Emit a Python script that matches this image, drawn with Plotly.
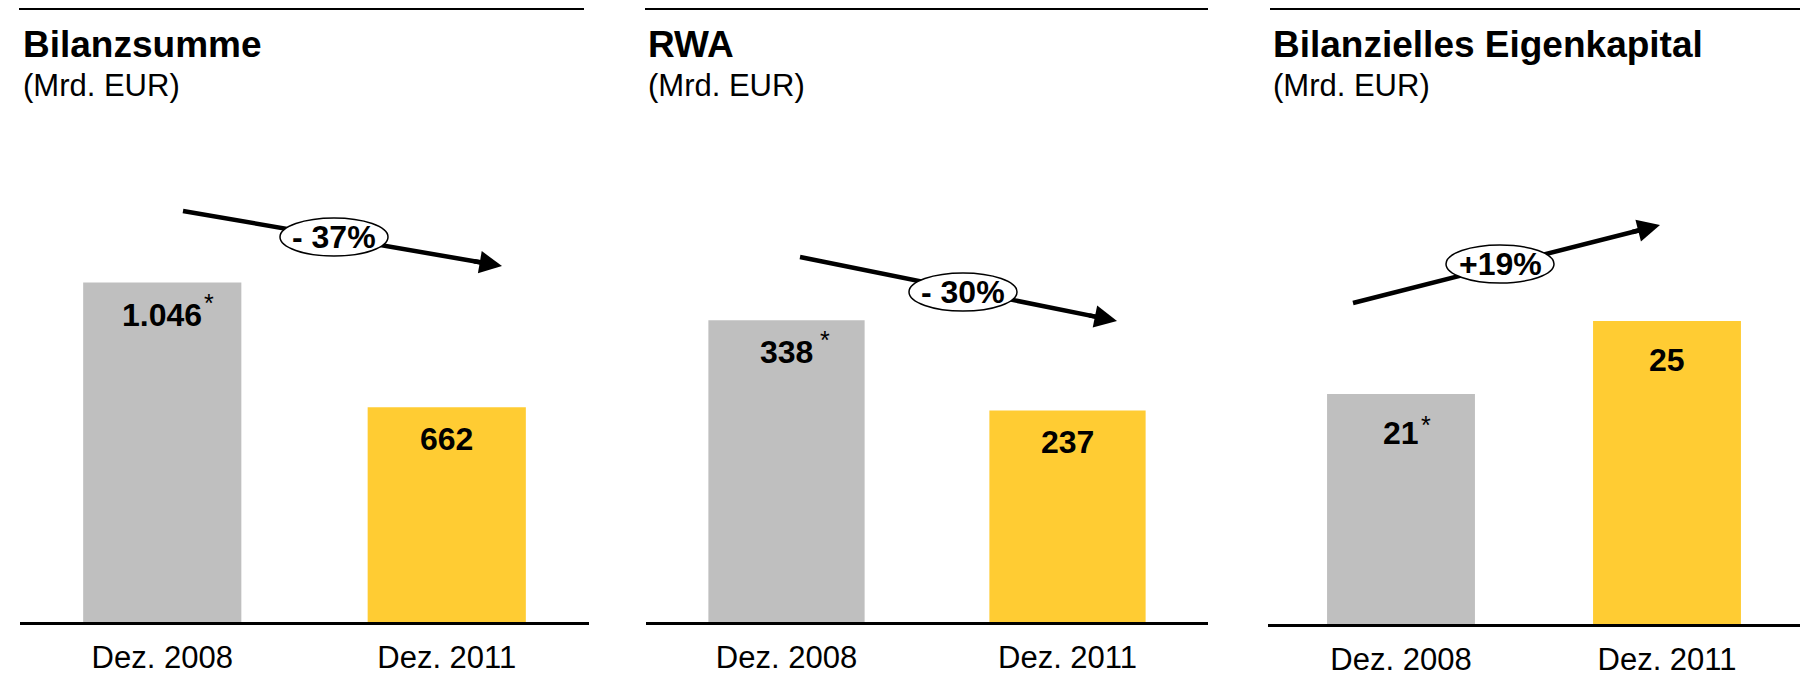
import plotly.graph_objects as go

categories = ["Dez. 2008", "Dez. 2011"]
bilanzsumme = [1046, 662]
rwa = [338, 237]
eigenkapital = [21, 25]
value_labels = [["1.046", "662"], ["338", "237"], ["21", "25"]]
footnote = "*"
changes = ["- 37%", "- 30%", "+19%"]
titles = ["Bilanzsumme", "RWA", "Bilanzielles Eigenkapital"]
unit = "(Mrd. EUR)"
bar_colors = ["#BFBFBF", "#FFCC33"]

W, H = 1800, 676
FONT = "Liberation Sans, Arial, sans-serif"


def px_x(x):
    return x / W


def px_y(y):
    return 1 - y / H


# layout of the three panels, in pixels of the 1800x676 page
panels = [
    dict(values=bilanzsumme, x0=20, x1=589, base=622, top=132, yrange=[0, 1510],
         label_shift=-32, star=(47, -20), rule=(19, 584), title_x=21,
         arrow=((183, 211), (502, 266)), oval=(334, 237)),
    dict(values=rwa, x0=646, x1=1208, base=622, top=132, yrange=[0, 549],
         label_shift=-32, star=(38, -20), rule=(645, 1208), title_x=646,
         arrow=((800, 257), (1117, 321)), oval=(963, 292)),
    dict(values=eigenkapital, x0=1268, x1=1800, base=624, top=132, yrange=[8.4, 35.36],
         label_shift=-39, star=(25, -31), rule=(1270, 1800), title_x=1271,
         arrow=((1353, 303), (1660, 225)), oval=(1500, 264)),
]

fig = go.Figure()
shapes = []
annotations = []

for i, p in enumerate(panels):
    n = "" if i == 0 else str(i + 1)
    fig.add_trace(go.Bar(
        x=categories, y=p["values"], marker=dict(color=bar_colors, line=dict(width=0)),
        width=0.556, xaxis="x" + n, yaxis="y" + n, showlegend=False, hoverinfo="skip",
    ))
    fig.layout["xaxis" + n] = dict(
        domain=[px_x(p["x0"]), px_x(p["x1"])], anchor="y" + n, range=[-0.5, 1.5],
        showline=True, linecolor="black", linewidth=3, ticks="", showgrid=False,
        zeroline=False, automargin=False, ticklabelstandoff=6,
        tickfont=dict(family=FONT, size=31, color="black"),
    )
    fig.layout["yaxis" + n] = dict(
        domain=[px_y(p["base"]), px_y(p["top"])], anchor="x" + n, range=p["yrange"],
        visible=False, automargin=False,
    )

    # rule above the title
    shapes.append(dict(type="line", xref="paper", yref="paper",
                       x0=px_x(p["rule"][0]), x1=px_x(p["rule"][1]), y0=px_y(9), y1=px_y(9),
                       line=dict(color="black", width=2)))
    annotations.append(dict(text="<b>%s</b>" % titles[i], xref="paper", yref="paper",
                            x=px_x(p["title_x"]), y=px_y(44), xanchor="left", yanchor="middle",
                            showarrow=False, font=dict(family=FONT, size=37, color="black")))
    annotations.append(dict(text=unit, xref="paper", yref="paper",
                            x=px_x(p["title_x"]), y=px_y(86), xanchor="left", yanchor="middle",
                            showarrow=False, font=dict(family=FONT, size=31, color="black")))

    # value labels inside the bars
    for j, cat in enumerate(categories):
        annotations.append(dict(text="<b>%s</b>" % value_labels[i][j], xref="x" + n, yref="y" + n,
                                x=cat, y=p["values"][j], yanchor="middle", yshift=p["label_shift"],
                                showarrow=False, font=dict(family=FONT, size=32, color="black")))
    annotations.append(dict(text=footnote, xref="x" + n, yref="y" + n,
                            x=categories[0], y=p["values"][0], xanchor="center", yanchor="middle",
                            xshift=p["star"][0], yshift=p["star"][1],
                            showarrow=False, font=dict(family=FONT, size=25, color="black")))

    # trend arrow with oval label
    (sx, sy), (tx, ty) = p["arrow"]
    dx, dy = tx - sx, ty - sy
    length = (dx ** 2 + dy ** 2) ** 0.5
    ux, uy = dx / length, dy / length
    shapes.append(dict(type="line", xref="paper", yref="paper",
                       x0=px_x(sx), y0=px_y(sy), x1=px_x(tx - 12 * ux), y1=px_y(ty - 12 * uy),
                       line=dict(color="black", width=4.5)))
    cx, cy = p["oval"]
    shapes.append(dict(type="circle", xref="paper", yref="paper",
                       x0=px_x(cx - 54), x1=px_x(cx + 54), y0=px_y(cy + 19), y1=px_y(cy - 19),
                       fillcolor="white", line=dict(color="black", width=1.5)))
    annotations.append(dict(text="", xref="paper", yref="paper", x=px_x(tx), y=px_y(ty),
                            ax=-30 * ux, ay=-30 * uy, showarrow=True, arrowhead=2,
                            arrowsize=1, arrowwidth=4.5, arrowcolor="black"))
    annotations.append(dict(text="<b>%s</b>" % changes[i], xref="paper", yref="paper",
                            x=px_x(cx), y=px_y(cy), xanchor="center", yanchor="middle",
                            showarrow=False, font=dict(family=FONT, size=32, color="black")))

fig.update_layout(
    width=W, height=H, margin=dict(l=0, r=0, t=0, b=0),
    paper_bgcolor="white", plot_bgcolor="white", template="none",
    shapes=shapes, annotations=annotations, showlegend=False,
)

# the page body has a default 8px margin; drop it so the figure fills the window
fig.write_html("out.html", config={"displayModeBar": False},
               post_script="document.body.style.margin = '0';")
